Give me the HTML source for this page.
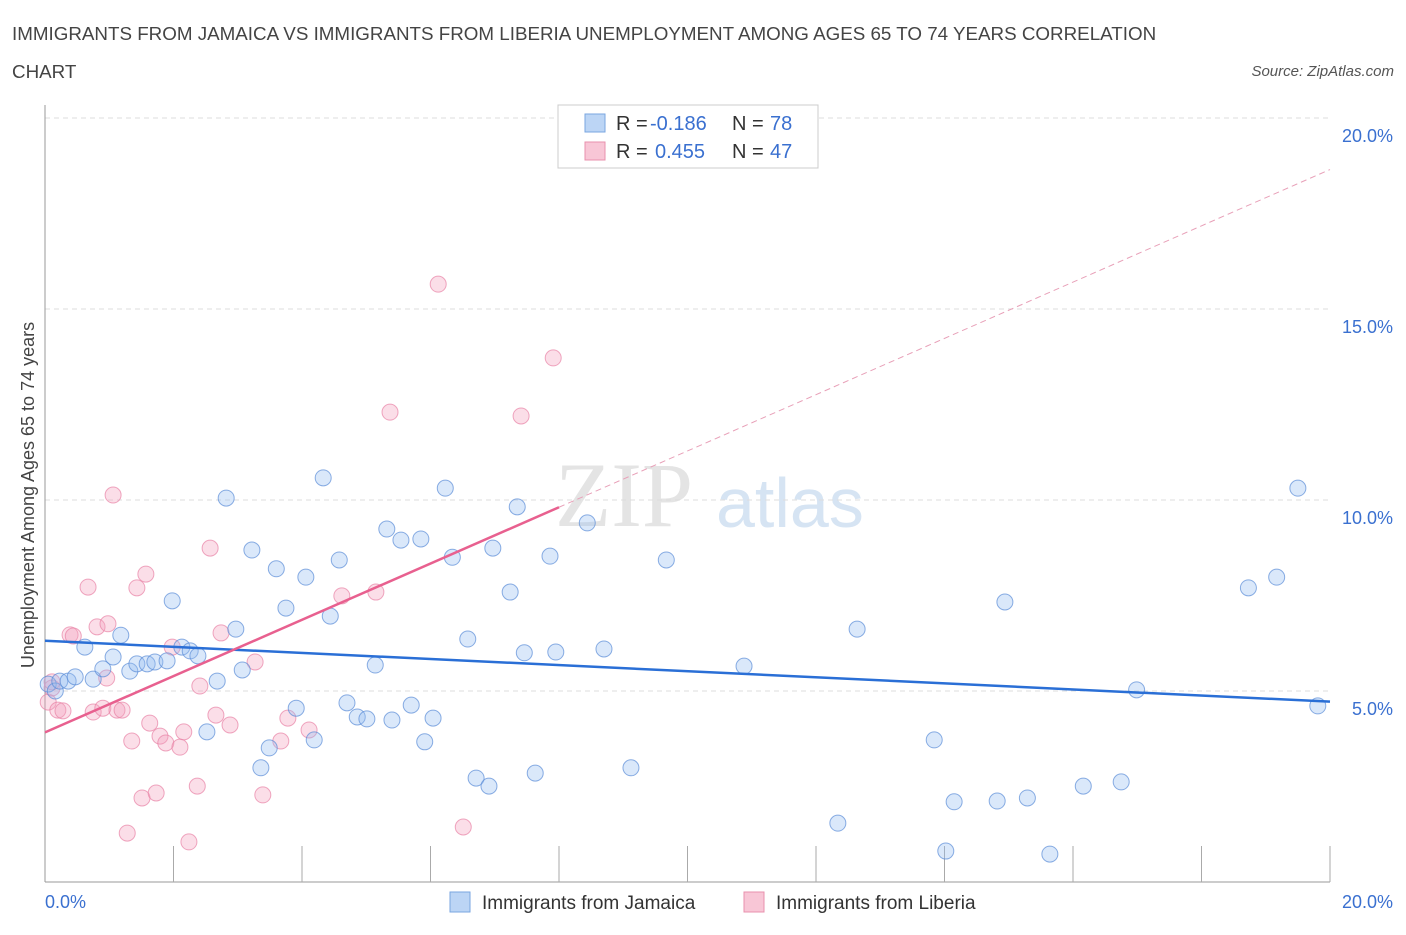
<!DOCTYPE html>
<html><head><meta charset="utf-8"><style>
body{margin:0;background:#fff;font-family:"Liberation Sans",sans-serif;}
</style></head><body>
<svg id="chart" width="1406" height="930" xmlns="http://www.w3.org/2000/svg">
<text x="12" y="40" font-size="18.8" fill="#444">IMMIGRANTS FROM JAMAICA VS IMMIGRANTS FROM LIBERIA UNEMPLOYMENT AMONG AGES 65 TO 74 YEARS CORRELATION</text>
<text x="12" y="78" font-size="18.8" fill="#444">CHART</text>
<text x="1394" y="76" font-size="15" fill="#555" font-style="italic" text-anchor="end">Source: ZipAtlas.com</text>
<text x="555" y="526" font-size="92" fill="#e4e4e4" font-family="Liberation Serif,serif">ZIP</text>
<text x="716" y="527" font-size="70" fill="#d6e4f3">atlas</text>
<g id="grid"></g><g id="axes"></g><g id="marks"></g>
<text transform="translate(34,495) rotate(-90)" font-size="18" fill="#444" text-anchor="middle">Unemployment Among Ages 65 to 74 years</text>
<g>
<rect x="558" y="105" width="260" height="63" fill="#fff" stroke="#ccc"/>
<rect x="585" y="114" width="20" height="18" fill="#bcd5f5" stroke="#7aa6e0"/>
<text x="616" y="130" font-size="20" fill="#333">R = </text><text x="650" y="130" font-size="20" fill="#3a70d0">-0.186</text>
<text x="732" y="130" font-size="20" fill="#333">N = </text><text x="770" y="130" font-size="20" fill="#3a70d0">78</text>
<rect x="585" y="142" width="20" height="18" fill="#f8c6d6" stroke="#e890ad"/>
<text x="616" y="158" font-size="20" fill="#333">R = </text><text x="655" y="158" font-size="20" fill="#3a70d0">0.455</text>
<text x="732" y="158" font-size="20" fill="#333">N = </text><text x="770" y="158" font-size="20" fill="#3a70d0">47</text>
</g>
<g>
<rect x="450" y="892" width="20" height="20" fill="#bcd5f5" stroke="#7aa6e0"/>
<text x="482" y="909" font-size="19" fill="#333">Immigrants from Jamaica</text>
<rect x="744" y="892" width="20" height="20" fill="#f8c6d6" stroke="#e890ad"/>
<text x="776" y="909" font-size="19" fill="#333">Immigrants from Liberia</text>
</g>
</svg>
<script>
const yTicks=[5,10,15,20];
const yTickLabels=["5.0%","10.0%","15.0%","20.0%"];
const xLabels=["0.0%","20.0%"];
const jamX=[0.05,0.16,0.23,0.36,0.47,0.62,0.75,0.9,1.06,1.18,1.32,1.43,1.59,1.71,1.9,1.98,2.13,2.26,2.38,2.52,2.68,2.82,2.97,3.07,3.22,3.36,3.49,3.6,3.75,3.91,4.06,4.19,4.33,4.44,4.58,4.7,4.86,5.01,5.14,5.32,5.4,5.54,5.7,5.85,5.91,6.04,6.23,6.34,6.58,6.71,6.91,6.97,7.24,7.35,7.46,7.63,7.86,7.95,8.44,8.7,9.12,9.67,10.88,12.34,12.64,13.84,14.02,14.15,14.82,14.94,15.29,15.64,16.16,16.75,16.99,18.73,19.17,19.5,19.81];
const jamY=[5.18,5.0,5.26,5.26,5.37,6.15,5.31,5.58,5.89,6.46,5.52,5.71,5.71,5.76,5.79,7.36,6.15,6.05,5.92,3.93,5.26,10.05,6.62,5.55,8.69,2.99,3.51,8.2,7.17,4.55,7.98,3.72,10.58,6.96,8.43,4.69,4.32,4.27,5.68,9.24,4.24,8.95,4.63,8.98,3.67,4.29,10.31,8.5,6.36,2.72,2.51,8.74,7.59,9.82,6.0,2.85,8.53,6.02,9.4,6.1,2.99,8.43,5.65,1.54,6.62,3.72,0.81,2.1,2.12,7.33,2.2,0.73,2.51,2.62,5.03,7.7,7.98,10.31,4.61];
const libX=[0.05,0.11,0.2,0.28,0.39,0.44,0.67,0.75,0.81,0.9,0.98,0.96,1.06,1.12,1.2,1.28,1.35,1.43,1.51,1.57,1.63,1.73,1.79,1.88,1.98,2.1,2.16,2.24,2.37,2.41,2.57,2.66,2.74,2.88,3.27,3.39,3.67,3.78,4.11,4.62,5.15,5.37,6.12,6.51,7.41,7.91,0.11];
const libY=[4.71,5.08,4.5,4.48,6.47,6.44,7.72,4.45,6.68,4.55,6.76,5.34,10.13,4.5,4.5,1.28,3.69,7.7,2.2,8.06,4.16,2.33,3.82,3.64,6.15,3.53,3.93,1.05,2.51,5.13,8.74,4.37,6.52,4.11,5.76,2.28,3.69,4.29,3.98,7.49,7.59,12.3,15.65,1.44,12.2,13.72,5.24];
const X=v=>45+v/20*1285, Y=v=>882-v/5*191;
const NS="http://www.w3.org/2000/svg";
function el(p,t,a){const e=document.createElementNS(NS,t);for(const k in a)e.setAttribute(k,a[k]);p.appendChild(e);return e;}
const grid=document.getElementById('grid'),axes=document.getElementById('axes'),marks=document.getElementById('marks');
yTicks.forEach((t,i)=>{
 const l=el(grid,'line',{x1:45,x2:1330,y1:Y(t),y2:Y(t),stroke:'#ddd','stroke-dasharray':'5,4'});
 
 
 const tx=el(axes,'text',{x:1393,y:Y(t)+24,'font-size':18,fill:'#3a70d0','text-anchor':'end'});tx.textContent=yTickLabels[i];
 
 
});
el(axes,'line',{x1:45,x2:45,y1:105,y2:882,stroke:'#999'});
el(axes,'line',{x1:45,x2:1330,y1:882,y2:882,stroke:'#999'});
for(let i=1;i<=10;i++){const x=X(i*2);el(axes,'line',{x1:x,x2:x,y1:846,y2:882,stroke:'#aaa'});}
const xl0=el(axes,'text',{x:45,y:908,'font-size':18,fill:'#3a70d0'});xl0.textContent=xLabels[0];


const xl1=el(axes,'text',{x:1393,y:908,'font-size':18,fill:'#3a70d0','text-anchor':'end'});xl1.textContent=xLabels[1];


libX.forEach((v,i)=>{const c=el(marks,'circle',{cx:X(v),cy:Y(libY[i]),r:8,fill:'rgba(244,160,188,0.35)',stroke:'rgba(232,130,165,0.7)','stroke-width':1});
 
 });
jamX.forEach((v,i)=>{const c=el(marks,'circle',{cx:X(v),cy:Y(jamY[i]),r:8,fill:'rgba(150,190,240,0.35)',stroke:'rgba(90,140,215,0.7)','stroke-width':1});
 
 });
function fit(xs,ys){const n=xs.length;let mx=0,my=0;xs.forEach((v,i)=>{mx+=v;my+=ys[i];});mx/=n;my/=n;let sxy=0,sxx=0;xs.forEach((v,i)=>{sxy+=(v-mx)*(ys[i]-my);sxx+=(v-mx)**2;});const b=sxy/sxx;return [my-b*mx,b];}
const [ja,jb]=fit(jamX,jamY);
const jl=el(marks,'line',{x1:X(0),y1:Y(ja),x2:X(20),y2:Y(ja+jb*20),stroke:'#2a6fd6','stroke-width':2.5});


const [la,lb]=fit(libX,libY);
const ll=el(marks,'line',{x1:X(0),y1:Y(la),x2:X(8),y2:Y(la+lb*8),stroke:'#e8608f','stroke-width':2.5});


const ld=el(marks,'line',{x1:X(8),y1:Y(la+lb*8),x2:X(20),y2:Y(la+lb*20),stroke:'#e8a0b8','stroke-width':1,'stroke-dasharray':'6,4'});


</script>
</body></html>
